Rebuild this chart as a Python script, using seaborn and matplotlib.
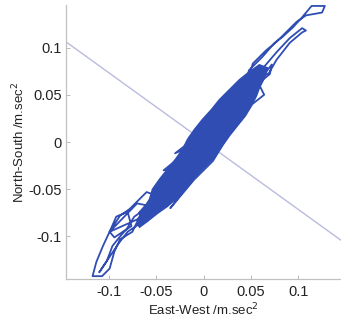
import numpy as np
import pandas as pd
import seaborn as sns
import matplotlib.pyplot as plt

# ground acceleration orbit (m/s^2)
ew_path = [-0.040, -0.060, -0.078, -0.088, -0.099, -0.106, -0.113, -0.117, -0.107, -0.099,
           -0.094, -0.088, -0.075, -0.065, -0.050, -0.025, -0.052, -0.018, -0.042, -0.008,
           -0.030, 0.005, -0.015, 0.018, 0.000, 0.030, 0.012, 0.040, 0.048, 0.062,
           0.075, 0.083, 0.094, 0.104, 0.114, 0.128, 0.125, 0.108, 0.098, 0.087,
           0.077, 0.066, 0.052, 0.045, 0.069, 0.077, 0.091, 0.104, 0.108, 0.104,
           0.091, 0.077, 0.060, 0.035, 0.020, 0.030, 0.005, 0.015, -0.010, 0.000,
           -0.022, -0.035, -0.060, -0.073, -0.081, -0.088, -0.096, -0.102, -0.110, -0.098,
           -0.090, -0.080, -0.065, -0.045, -0.070, -0.099, -0.092, -0.080, -0.076, -0.094,
           -0.099, -0.070, -0.048, -0.022, -0.035, -0.010, 0.010, 0.022, 0.055, 0.072,
           0.070, 0.058, 0.064, 0.045, 0.030, -0.055, -0.068, -0.062, -0.040]
ns_path = [-0.060, -0.053, -0.071, -0.078, -0.095, -0.110, -0.127, -0.142, -0.142, -0.134,
           -0.116, -0.103, -0.095, -0.074, -0.062, -0.045, -0.050, -0.025, -0.030, -0.002,
           -0.012, 0.015, 0.005, 0.030, 0.020, 0.042, 0.035, 0.050, 0.076, 0.090,
           0.105, 0.111, 0.121, 0.132, 0.144, 0.144, 0.137, 0.134, 0.127, 0.116,
           0.106, 0.097, 0.083, 0.060, 0.073, 0.087, 0.105, 0.116, 0.118, 0.1205,
           0.110, 0.095, 0.075, 0.050, 0.010, 0.040, -0.010, 0.025, -0.030, 0.000,
           -0.050, -0.040, -0.070, -0.079, -0.092, -0.100, -0.110, -0.126, -0.138, -0.120,
           -0.108, -0.095, -0.085, -0.070, -0.065, -0.095, -0.079, -0.074, -0.089, -0.101,
           -0.095, -0.082, -0.060, -0.053, -0.070, -0.040, -0.020, 0.000, 0.060, 0.082,
           0.072, 0.062, 0.050, 0.035, 0.020, -0.060, -0.075, -0.080, -0.060]

# outline of the densely overdrawn core of the orbit
core_ew = [-0.0695, -0.0642, -0.0568, -0.0537, -0.0463, -0.0379, -0.0295, -0.0221, -0.0168,
           -0.0095, -0.0011, 0.0084, 0.0168, 0.0274, 0.0379, 0.0484, 0.0589,
           0.0674, 0.0642, 0.0589, 0.0558, 0.0505, 0.0442, 0.0358, 0.0274, 0.0200,
           0.0116, 0.0032, -0.0063, -0.0147, -0.0211, -0.0295, -0.0379, -0.0484, -0.0589, -0.0674]
core_ns = [-0.0868, -0.0732, -0.0605, -0.0500, -0.0395, -0.0289, -0.0184, -0.0079, 0.0026,
           0.0132, 0.0237, 0.0342, 0.0447, 0.0553, 0.0658, 0.0742, 0.0816,
           0.0784, 0.0679, 0.0574, 0.0489, 0.0384, 0.0279, 0.0174, 0.0068, -0.0037,
           -0.0163, -0.0247, -0.0342, -0.0437, -0.0521, -0.0605, -0.0679, -0.0753, -0.0837, -0.0900]

# principal-axis perpendicular line
perp_ew = [-0.145, 0.145]
perp_ns = [0.106, -0.104]

ticks = [-0.1, -0.05, 0, 0.05, 0.1]
tick_labels = ['-0.1', '-0.05', '0', '0.05', '0.1']

sns.set_style('ticks')
plt.rcParams['font.family'] = ['Liberation Sans', 'DejaVu Sans']
plt.rcParams['axes.unicode_minus'] = False

fig = plt.figure(figsize=(3.41, 3.22), dpi=100)
ax = fig.add_axes([66 / 341, 43 / 322, 275 / 341, 274 / 322])

blue = '#2f4db3'
sns.lineplot(x=perp_ew, y=perp_ns, ax=ax, color='#b9bcdd', linewidth=1.0, zorder=0.5)
ax.fill(core_ew, core_ns, color=blue, linewidth=1.2, edgecolor=blue, zorder=1)
traj = pd.DataFrame({'ew': ew_path, 'ns': ns_path})
sns.lineplot(data=traj, x='ew', y='ns', ax=ax, sort=False, estimator=None,
             color=blue, linewidth=1.3, zorder=2)

ax.set_xlim(-0.145, 0.145)
ax.set_ylim(-0.145, 0.145)
ax.set_xticks(ticks)
ax.set_xticklabels(tick_labels)
ax.set_yticks(ticks)
ax.set_yticklabels(tick_labels)
ax.tick_params(direction='in', length=3, width=0.6, color='#b0b0b0',
               labelsize=10.5, labelcolor='#222222', pad=4)
ax.tick_params(axis='y', pad=3)
sns.despine(ax=ax)
for s in ['left', 'bottom']:
    ax.spines[s].set_color('#c0c0c0')
    ax.spines[s].set_linewidth(0.9)

ax.set_xlabel('East-West /m.sec$^2$', fontsize=9.5, color='#222222', labelpad=2)
ax.set_ylabel('North-South /m.sec$^2$', fontsize=9.5, color='#222222', labelpad=1)

fig.savefig('out.png', dpi=100)
